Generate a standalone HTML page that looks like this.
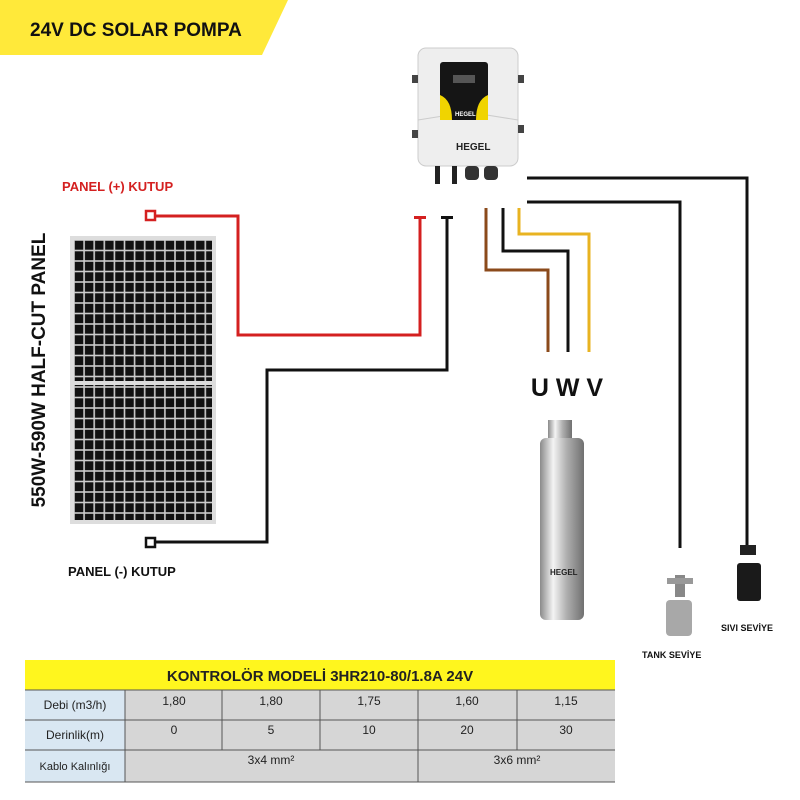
<!DOCTYPE html><html><head><style>body{margin:0;background:#fff}svg{display:block}text{font-family:"Liberation Sans",sans-serif}</style></head><body>
<svg width="800" height="800" viewBox="0 0 800 800" xmlns="http://www.w3.org/2000/svg">
<defs>
<pattern id="cells" x="74" y="240" width="10.1" height="10.5" patternUnits="userSpaceOnUse"><rect width="10.1" height="10.5" fill="#ccc"/><rect x="0.8" y="0.8" width="8.5" height="8.9" fill="#111"/></pattern>
<linearGradient id="steel" x1="0" x2="1"><stop offset="0" stop-color="#8a8a8a"/><stop offset=".3" stop-color="#f4f4f4"/><stop offset=".6" stop-color="#b0b0b0"/><stop offset="1" stop-color="#707070"/></linearGradient>
</defs>
<polygon points="0,0 288,0 262,55 0,55" fill="#ffe93a"/>
<text x="30" y="36" font-size="19" font-weight="bold" fill="#111">24V DC SOLAR POMPA</text>
<!-- panel -->
<rect x="70" y="236" width="146" height="288" fill="#ddd"/>
<rect x="74" y="240" width="138" height="280" fill="url(#cells)"/>
<rect x="74" y="381" width="138" height="4" fill="#ddd"/>
<text transform="translate(45,370) rotate(-90)" font-size="19" font-weight="bold" text-anchor="middle" fill="#111">550W-590W HALF-CUT PANEL</text>
<text x="62" y="191" font-size="13" font-weight="bold" fill="#d42020">PANEL (+) KUTUP</text>
<text x="68" y="576" font-size="13" font-weight="bold" fill="#111">PANEL (-) KUTUP</text>
<!-- wires -->
<g fill="none" stroke-width="3">
<polyline points="154,216 238,216 238,335 420,335 420,218" stroke="#d42020"/>
<polyline points="154,542 267,542 267,370 447,370 447,218" stroke="#111"/>
<polyline points="486,208 486,270 548,270 548,352" stroke="#8b4a1b"/>
<polyline points="503,208 503,251 568,251 568,352" stroke="#111"/>
<polyline points="519,208 519,234 589,234 589,352" stroke="#e8b321"/>
<polyline points="527,178 747,178 747,545" stroke="#111"/>
<polyline points="527,202 680,202 680,548" stroke="#111"/>
</g>
<rect x="146" y="211" width="9" height="9" fill="#fff" stroke="#d42020" stroke-width="2.5"/>
<rect x="146" y="538" width="9" height="9" fill="#fff" stroke="#111" stroke-width="2.5"/>
<rect x="414" y="216" width="12" height="3" fill="#d42020"/>
<rect x="441" y="216" width="12" height="3" fill="#111"/>
<!-- controller -->
<rect x="418" y="48" width="100" height="118" rx="8" fill="#eeeeee" stroke="#ccc"/>
<path d="M418 120 L468 112 L518 120" stroke="#ccc" fill="none"/>
<rect x="440" y="62" width="48" height="58" rx="3" fill="#151515"/>
<path d="M440 95 Q452 100 452 120 L440 120Z M488 95 Q476 100 476 120 L488 120Z" fill="#f0d400"/>
<rect x="453" y="75" width="22" height="8" fill="#555"/>
<text x="455" y="116" font-size="6" font-weight="bold" fill="#fff">HEGEL</text>
<text x="456" y="150" font-size="10" font-weight="bold" fill="#222">HEGEL</text>
<rect x="412" y="75" width="6" height="8" fill="#444"/><rect x="412" y="130" width="6" height="8" fill="#444"/>
<rect x="518" y="75" width="6" height="8" fill="#444"/><rect x="518" y="125" width="6" height="8" fill="#444"/>
<rect x="435" y="166" width="5" height="18" fill="#222"/><rect x="452" y="166" width="5" height="18" fill="#222"/>
<rect x="465" y="166" width="14" height="14" rx="4" fill="#333"/><rect x="484" y="166" width="14" height="14" rx="4" fill="#333"/>
<!-- UWV -->
<text x="567" y="396" font-size="25" font-weight="bold" text-anchor="middle" fill="#111">U W V</text>
<!-- pump -->
<rect x="548" y="420" width="24" height="20" fill="url(#steel)"/>
<rect x="540" y="438" width="44" height="182" rx="6" fill="url(#steel)"/>
<text x="550" y="575" font-size="8" font-weight="bold" fill="#222">HEGEL</text>
<!-- floats -->
<rect x="675" y="575" width="10" height="22" fill="#888"/>
<rect x="667" y="578" width="26" height="6" fill="#999"/>
<rect x="666" y="600" width="26" height="36" rx="4" fill="#a8a8a8"/>
<text x="642" y="658" font-size="9" font-weight="bold" fill="#111">TANK SEVİYE</text>
<rect x="740" y="545" width="16" height="10" fill="#222"/>
<rect x="737" y="563" width="24" height="38" rx="3" fill="#1a1a1a"/>
<text x="721" y="631" font-size="9" font-weight="bold" fill="#111">SIVI SEVİYE</text>
<!-- table -->
<g font-size="12" fill="#222">
<rect x="25" y="660" width="590" height="30" fill="#fff61e"/>
<text x="320" y="681" text-anchor="middle" font-size="15" font-weight="bold">KONTROLÖR MODELİ   3HR210-80/1.8A  24V</text>
<rect x="25" y="690" width="100" height="92" fill="#d9e7f2"/>
<rect x="125" y="690" width="490" height="92" fill="#d6d6d6"/>
<g stroke="#555" stroke-width="1" fill="none">
<line x1="25" y1="690" x2="615" y2="690"/><line x1="25" y1="720" x2="615" y2="720"/><line x1="25" y1="750" x2="615" y2="750"/><line x1="25" y1="782" x2="615" y2="782"/>
<line x1="125" y1="690" x2="125" y2="782"/><line x1="418" y1="690" x2="418" y2="782"/>
<line x1="222" y1="690" x2="222" y2="750"/><line x1="320" y1="690" x2="320" y2="750"/><line x1="517" y1="690" x2="517" y2="750"/>
</g>
<text x="75" y="709" text-anchor="middle">Debi (m3/h)</text>
<text x="75" y="739" text-anchor="middle">Derinlik(m)</text>
<text x="75" y="770" text-anchor="middle" font-size="11">Kablo Kalınlığı</text>
<g text-anchor="middle">
<text x="174" y="705">1,80</text><text x="271" y="705">1,80</text><text x="369" y="705">1,75</text><text x="467" y="705">1,60</text><text x="566" y="705">1,15</text>
<text x="174" y="734">0</text><text x="271" y="734">5</text><text x="369" y="734">10</text><text x="467" y="734">20</text><text x="566" y="734">30</text>
<text x="271" y="764">3x4 mm²</text><text x="517" y="764">3x6 mm²</text>
</g></g>
</svg></body></html>
